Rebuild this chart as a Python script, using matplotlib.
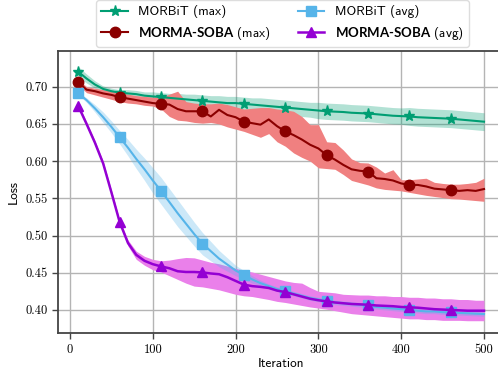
# Curvas de loss (max / avg) para MORBiT e MORMA-SOBA ao longo das iteracoes.

import numpy as np
import matplotlib
matplotlib.use("Agg")
import matplotlib.pyplot as plt

iteracoes = np.arange(10, 501, 10)

# MORBiT (max)
morbit_max = [0.720, 0.711, 0.703, 0.697, 0.694, 0.692, 0.691, 0.690, 0.688, 0.687,
              0.686, 0.685, 0.684, 0.683, 0.682, 0.681, 0.680, 0.679, 0.678, 0.678,
              0.677, 0.676, 0.675, 0.674, 0.673, 0.672, 0.671, 0.670, 0.669, 0.668,
              0.667, 0.6665, 0.666, 0.665, 0.6645, 0.664, 0.663, 0.662, 0.661, 0.6605,
              0.660, 0.659, 0.6585, 0.658, 0.6575, 0.657, 0.656, 0.655, 0.654, 0.653]
morbit_max_dp = [0.007, 0.006, 0.005, 0.004, 0.004, 0.004, 0.005, 0.005, 0.005, 0.006,
                 0.006, 0.006, 0.007, 0.007, 0.008, 0.008, 0.008, 0.009, 0.009, 0.009,
                 0.009, 0.009, 0.010, 0.010, 0.010, 0.010, 0.010, 0.010, 0.010, 0.011,
                 0.011, 0.011, 0.011, 0.011, 0.011, 0.011, 0.011, 0.011, 0.011, 0.011,
                 0.012, 0.012, 0.012, 0.012, 0.012, 0.012, 0.012, 0.012, 0.012, 0.012]

# MORMA-SOBA (max)
morma_max = [0.706, 0.696, 0.694, 0.691, 0.689, 0.686, 0.684, 0.682, 0.680, 0.678,
             0.677, 0.676, 0.670, 0.667, 0.667, 0.667, 0.660, 0.669, 0.662, 0.659,
             0.653, 0.651, 0.649, 0.656, 0.647, 0.640, 0.635, 0.629, 0.622, 0.617,
             0.608, 0.602, 0.595, 0.589, 0.587, 0.586, 0.577, 0.576, 0.574, 0.570,
             0.568, 0.568, 0.566, 0.563, 0.562, 0.561, 0.560, 0.561, 0.560, 0.5625]
morma_max_sup = [0.710, 0.700, 0.698, 0.696, 0.694, 0.692, 0.690, 0.688, 0.687, 0.686,
                 0.686, 0.690, 0.694, 0.680, 0.678, 0.677, 0.677, 0.678, 0.676, 0.673,
                 0.670, 0.671, 0.672, 0.672, 0.670, 0.669, 0.667, 0.660, 0.649, 0.649,
                 0.626, 0.625, 0.615, 0.603, 0.598, 0.5975, 0.592, 0.584, 0.5885, 0.575,
                 0.575, 0.576, 0.577, 0.5715, 0.570, 0.569, 0.569, 0.570, 0.5715, 0.577]
morma_max_inf = [0.702, 0.692, 0.689, 0.686, 0.683, 0.680, 0.678, 0.677, 0.675, 0.674,
                 0.670, 0.660, 0.655, 0.654, 0.652, 0.651, 0.652, 0.650, 0.646, 0.643,
                 0.640, 0.636, 0.632, 0.637, 0.626, 0.620, 0.611, 0.605, 0.600, 0.591,
                 0.590, 0.589, 0.582, 0.574, 0.571, 0.568, 0.564, 0.562, 0.561, 0.560,
                 0.558, 0.556, 0.554, 0.5525, 0.551, 0.5495, 0.549, 0.548, 0.547, 0.546]

# MORBiT (avg)
morbit_avg = [0.691, 0.682, 0.671, 0.659, 0.646, 0.632, 0.618, 0.603, 0.589, 0.574,
              0.560, 0.545, 0.530, 0.516, 0.502, 0.489, 0.479, 0.469, 0.461, 0.453,
              0.447, 0.441, 0.436, 0.432, 0.428, 0.425, 0.422, 0.419, 0.416, 0.414,
              0.4115, 0.410, 0.409, 0.408, 0.407, 0.406, 0.404, 0.403, 0.402, 0.401,
              0.400, 0.399, 0.398, 0.398, 0.397, 0.3967, 0.396, 0.3955, 0.395, 0.3945]
morbit_avg_dp = [0.002, 0.003, 0.005, 0.007, 0.008, 0.009, 0.011, 0.013, 0.015, 0.017,
                 0.018, 0.018, 0.018, 0.017, 0.016, 0.015, 0.013, 0.011, 0.009, 0.007,
                 0.006, 0.005, 0.004, 0.003, 0.003, 0.003, 0.003, 0.003, 0.003, 0.003,
                 0.003, 0.003, 0.003, 0.003, 0.003, 0.003, 0.003, 0.003, 0.003, 0.003,
                 0.003, 0.003, 0.003, 0.003, 0.003, 0.003, 0.003, 0.003, 0.003, 0.003]

# MORMA-SOBA (avg)
morma_avg = [0.674, 0.650, 0.625, 0.597, 0.558, 0.518, 0.490, 0.474, 0.466, 0.4615,
             0.4585, 0.456, 0.452, 0.451, 0.451, 0.4504, 0.449, 0.448, 0.444, 0.439,
             0.434, 0.432, 0.431, 0.4295, 0.426, 0.424, 0.421, 0.418, 0.415, 0.413,
             0.4115, 0.410, 0.409, 0.408, 0.4075, 0.407, 0.406, 0.4055, 0.405, 0.404,
             0.4035, 0.403, 0.402, 0.401, 0.4005, 0.400, 0.3995, 0.399, 0.399, 0.399]
morma_avg_sup = [0.677, 0.653, 0.628, 0.600, 0.561, 0.521, 0.494, 0.479, 0.472, 0.468,
                 0.466, 0.467, 0.469, 0.4705, 0.470, 0.467, 0.464, 0.462, 0.459, 0.456,
                 0.453, 0.451, 0.448, 0.445, 0.442, 0.439, 0.437, 0.436, 0.430, 0.425,
                 0.424, 0.423, 0.421, 0.4205, 0.420, 0.420, 0.419, 0.419, 0.418, 0.418,
                 0.417, 0.417, 0.416, 0.416, 0.415, 0.415, 0.414, 0.414, 0.413, 0.413]
morma_avg_inf = [0.671, 0.647, 0.622, 0.594, 0.555, 0.515, 0.486, 0.468, 0.460, 0.454,
                 0.451, 0.446, 0.441, 0.436, 0.432, 0.431, 0.429, 0.427, 0.424, 0.421,
                 0.419, 0.418, 0.416, 0.414, 0.4115, 0.410, 0.408, 0.406, 0.404, 0.4025,
                 0.401, 0.399, 0.397, 0.395, 0.394, 0.393, 0.392, 0.391, 0.390, 0.389,
                 0.388, 0.388, 0.387, 0.387, 0.386, 0.386, 0.386, 0.3855, 0.3855, 0.3855]

xticks = [0, 100, 200, 300, 400, 500]
yticks = [0.40, 0.45, 0.50, 0.55, 0.60, 0.65, 0.70]

plt.rcParams["mathtext.fontset"] = "custom"
plt.rcParams["mathtext.bf"] = "Lato:bold"


def main():
    fig = plt.figure(figsize=(4.98, 3.69), dpi=100)
    ax = fig.add_axes([58 / 498, 1 - 333 / 369, 446.3 / 498, 282 / 369])

    x = iteracoes
    m1 = np.array(morbit_max)
    d1 = np.array(morbit_max_dp)
    m3 = np.array(morbit_avg)
    d3 = np.array(morbit_avg_dp)

    # faixas
    ax.fill_between(x, m1 - d1, m1 + d1, color="#009E73", alpha=0.3, lw=0)
    ax.fill_between(x, morma_max_inf, morma_max_sup, color="#F08080", lw=0)
    ax.fill_between(x, morma_avg_inf, morma_avg_sup, color="#EA80EA", lw=0)
    ax.fill_between(x, m3 - d3, m3 + d3, color="#56B4E9", alpha=0.3, lw=0)

    l1, = ax.plot(x, m1, color="#009E73", lw=1.5, marker="*", ms=8,
                  markevery=5, label="MORBiT (max)")
    l2, = ax.plot(x, morma_max, color="#8B0000", lw=1.5, marker="o", ms=7.5,
                  markevery=5, label="$\\mathbf{MORMA\u2010SOBA}$ (max)")
    l3, = ax.plot(x, m3, color="#56B4E9", lw=1.5, marker="s", ms=7,
                  markevery=5, label="MORBiT (avg)")
    l4, = ax.plot(x, morma_avg, color="#9400D3", lw=1.8, marker="^", ms=7.5,
                  markevery=5, label="$\\mathbf{MORMA\u2010SOBA}$ (avg)")

    ax.set_xlim(-14.5, 524.5)
    ax.set_ylim(0.369, 0.748)
    ax.set_xticks(xticks, [str(t) for t in xticks], fontfamily="cmr10", fontsize=9)
    ax.set_yticks(yticks, [f"{t:.2f}" for t in yticks], fontfamily="cmr10", fontsize=9)
    ax.grid(True, color="#b4b4b4", lw=1)
    ax.set_axisbelow(True)
    for s in ax.spines.values():
        s.set_color("#444444")
        s.set_linewidth(1.3)
    ax.tick_params(length=4, width=1, color="#444444")

    ax.set_xlabel("Iteration", fontfamily="cmss10", fontsize=9.5, labelpad=2)
    ax.set_ylabel("Loss", fontfamily="cmss10", fontsize=9.5, labelpad=4)

    ax.legend(handles=[l1, l2, l3, l4], loc="lower center", bbox_to_anchor=(0.503, 1.0),
              ncol=2, prop={"family": "cmss10", "size": 9.5}, borderaxespad=0.3,
              edgecolor="#dddddd", framealpha=1)

    fig.savefig("out.png", dpi=100)
    plt.close(fig)


if __name__ == "__main__":
    main()
